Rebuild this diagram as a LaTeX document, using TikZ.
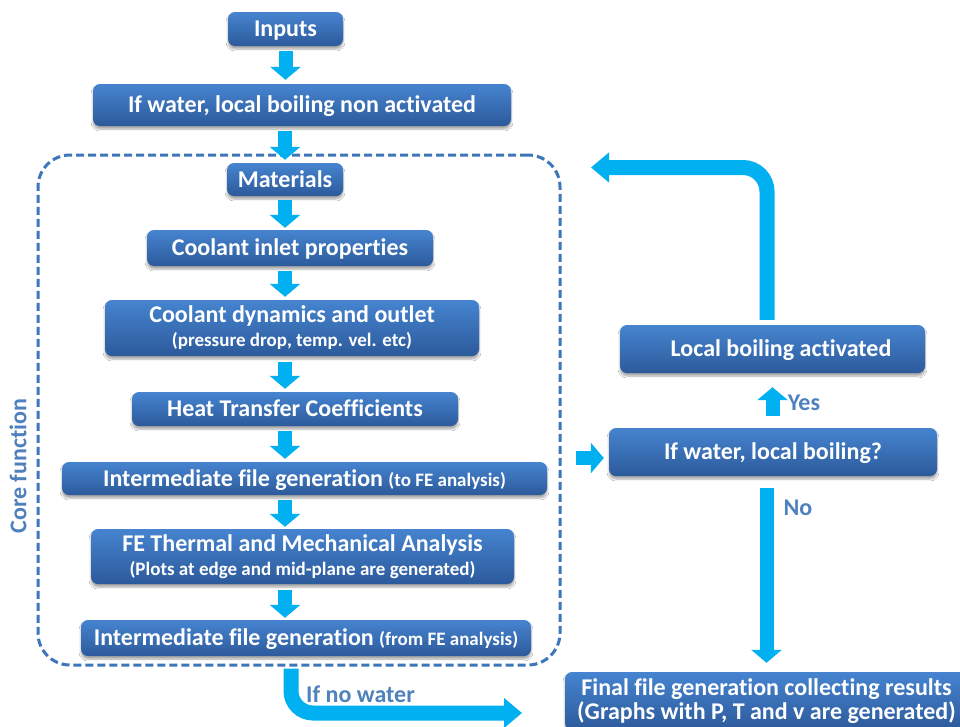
\documentclass[tikz,border=0pt]{standalone}
\usepackage{fontspec}
\setmainfont{Carlito}[Ligatures={NoCommon}]
\usetikzlibrary{arrows.meta,shadows.blur}
\definecolor{boxtop}{RGB}{70,132,208}
\definecolor{boxbot}{RGB}{44,90,155}
\definecolor{arrblue}{RGB}{0,176,240}
\definecolor{lblue}{RGB}{79,129,189}
\definecolor{dblue}{RGB}{62,118,188}
\newcommand{\mainf}{\fontsize{24}{24}\selectfont\bfseries}
\newcommand{\subf}{\fontsize{19}{24}\selectfont\bfseries}
\tikzset{
 box/.style={rounded corners=7pt, top color=boxtop, bottom color=boxbot, text=white,
   font=\mainf, align=center, inner sep=0pt,
   blur shadow={shadow xshift=0pt, shadow yshift=-3pt, shadow blur steps=6, shadow opacity=35}},
 one/.style={text height=15pt, text depth=0pt},
 blk/.style={draw=arrblue, line width=14pt, -{Triangle[width=30pt,length=13pt]}},
 bigblk/.style={draw=arrblue, line width=15pt, -{Triangle[width=29pt,length=18pt]}},
 lbl/.style={text=lblue, font=\mainf},
 dashbox/.style={draw=dblue, line width=3pt, dash pattern=on 8pt off 4pt, rounded corners=32pt, inner sep=0pt}
}
\begin{document}
\begin{tikzpicture}[x=1pt,y=-1pt]
\useasboundingbox (0,0) rectangle (960,726);
\clip (0,0) rectangle (960,726);
\fill[white] (0,0) rectangle (960,726);

\node[dashbox, minimum width=522pt, minimum height=510pt] (core) at (299,410) {};

\node[box, one, minimum width=115pt, minimum height=34pt] (inputs) at (285.5,29) {Inputs};
\node[box, one, minimum width=418pt, minimum height=42pt] (nonact) at (302,105) {If water, local boiling non activated};
\node[box, one, minimum width=116pt, minimum height=33pt] (mat) at (285,179.5) {Materials};
\node[box, one, minimum width=286pt, minimum height=36pt] (inlet) at (290,248) {Coolant inlet properties};
\node[box, minimum width=374pt, minimum height=56pt] (dyn) at (292,328) {Coolant dynamics and outlet\\{\subf (pressure drop, temp. vel. etc)}};
\node[box, one, minimum width=326pt, minimum height=34pt] (htc) at (295,409) {Heat Transfer Coefficients};
\node[box, one, minimum width=485pt, minimum height=33pt] (int1) at (304.5,478.5) {Intermediate file generation {\subf (to FE analysis)}};
\node[box, minimum width=423pt, minimum height=55pt] (fe) at (302.5,556.5) {FE Thermal and Mechanical Analysis\\{\subf (Plots at edge and mid-plane are generated)}};
\node[box, one, minimum width=450pt, minimum height=36pt] (int2) at (306,638) {Intermediate file generation {\subf (from FE analysis)}};
\node[box, one, minimum width=305pt, minimum height=48pt] (lba) at (772.5,349) {\hspace*{17pt}Local boiling activated};
\node[box, one, minimum width=328pt, minimum height=48pt] (dec) at (773,452) {If water, local boiling?};
\node[box, minimum width=403pt, minimum height=58pt] (final) at (766.5,701) {Final file generation collecting results\\(Graphs with P, T and v are generated)};

% vertical chain
\draw[blk, shorten <=5pt, shorten >=4pt] (inputs.south) -- (inputs.south |- nonact.north);
\draw[blk, shorten <=5pt, shorten >=3pt] (nonact.south -| mat.north) -- (mat.north);
\draw[blk, shorten <=4pt, shorten >=2pt] (mat.south) -- (mat.south |- inlet.north);
\draw[blk, shorten <=5pt, shorten >=3pt] (inlet.south -| mat.south) -- (dyn.north -| mat.south);
\draw[blk, shorten <=6pt, shorten >=3pt] (dyn.south -| mat.south) -- (htc.north -| mat.south);
\draw[blk, shorten <=5pt, shorten >=3pt] (htc.south -| mat.south) -- (int1.north -| mat.south);
\draw[blk, shorten <=5pt, shorten >=2pt] (int1.south -| mat.south) -- (fe.north -| mat.south);
\draw[blk, shorten <=6pt, shorten >=2pt] (fe.south -| mat.south) -- (int2.north -| mat.south);

% right column
\coordinate (sa) at (576,458);
\draw[blk, shorten >=5pt] (sa) -- (sa -| dec.west);
\draw[blk, shorten <=12pt, shorten >=14pt] (dec.north -| lba.south) -- (lba.south);
\draw[blk, shorten <=12pt, shorten >=9pt] (dec.south -| final.north) -- (final.north);
\coordinate (loopend) at (591,167.5);
\draw[bigblk, rounded corners=24pt, shorten <=5pt] ([xshift=-5.5pt]lba.north) |- (loopend);
\coordinate (nwend) at (522,713);
\draw[bigblk, rounded corners=22pt, shorten <=2pt] ([xshift=-8pt]core.south) |- (nwend);

% labels
\node[lbl] (yes) at (804,403) {Yes};
\node[lbl] (no) at (798,508) {No};
\node[lbl] (nowater) at (360.5,694) {If no water};
\node[lbl, rotate=90] (corelbl) at (18,466) {Core function};
\end{tikzpicture}
\end{document}
